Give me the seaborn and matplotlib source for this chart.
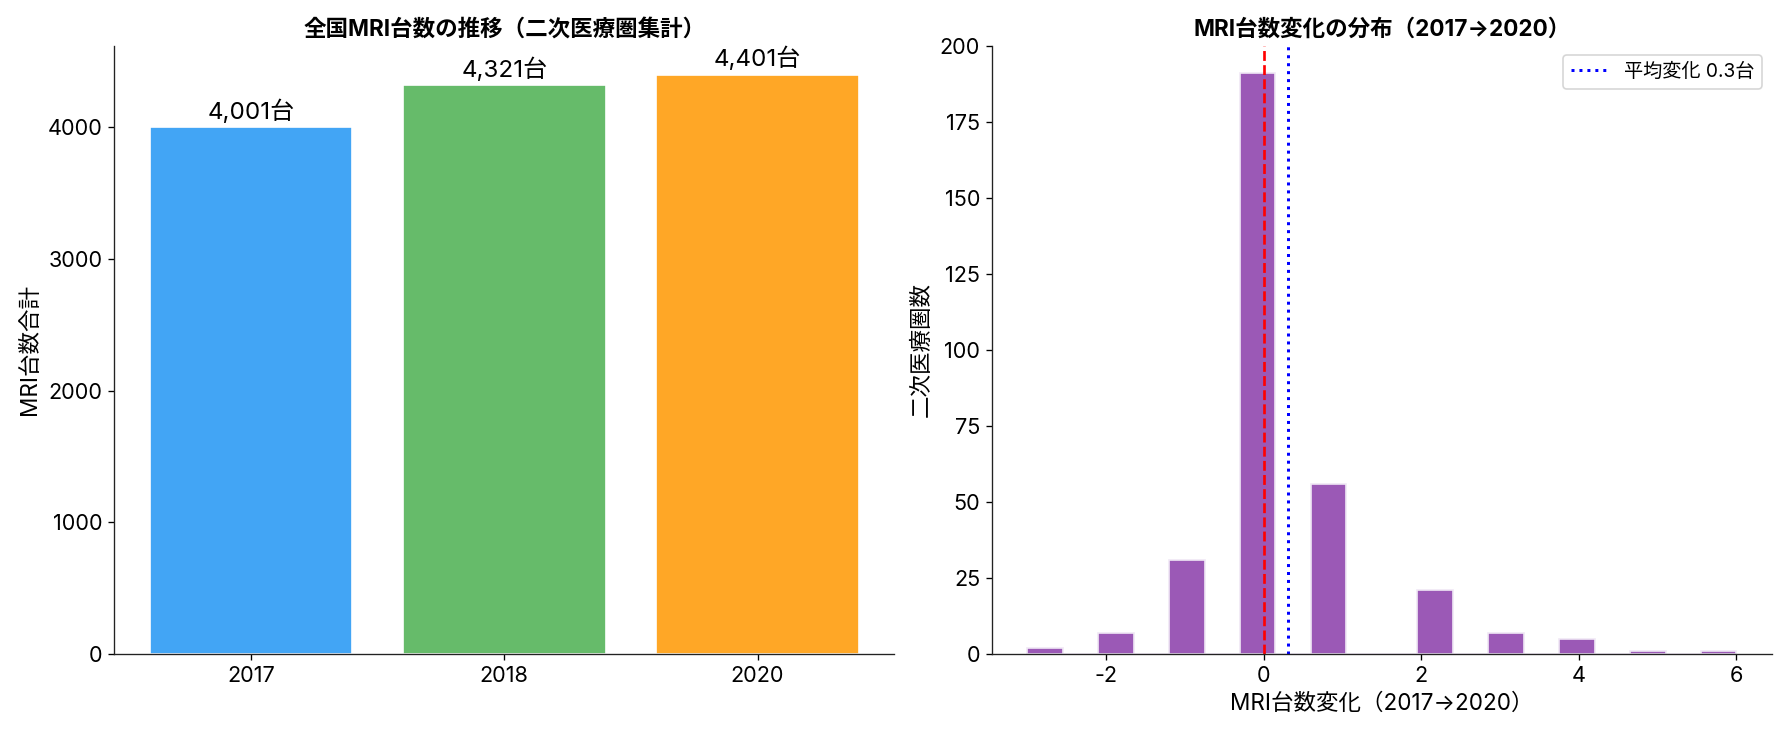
import numpy as np
import pandas as pd
import matplotlib
matplotlib.use("Agg")
import matplotlib.pyplot as plt
import seaborn as sns

# 全国MRI台数（二次医療圏集計）
years = ["2017", "2018", "2020"]
totals = [4001, 4321, 4401]
bar_colors = ["#42A5F5", "#66BB6A", "#FFA726"]

# 医療圏ごとの台数変化（2017→2020）と医療圏数
change_values = [-3, -2, -1, 0, 1, 2, 3, 4, 5, 6]
area_counts = [2, 7, 31, 191, 56, 21, 7, 5, 1, 1]

sns.set_style("ticks")
plt.rcParams["font.family"] = ["Inter", "Noto Sans CJK JP", "DejaVu Sans"]
plt.rcParams["axes.unicode_minus"] = False
plt.rcParams["font.size"] = 13
plt.rcParams["xtick.labelsize"] = 13
plt.rcParams["ytick.labelsize"] = 13
for key in ["text.color", "axes.labelcolor", "xtick.color", "ytick.color"]:
    plt.rcParams[key] = "black"
plt.rcParams["axes.edgecolor"] = "#222222"

fig, (ax1, ax2) = plt.subplots(1, 2, figsize=(14.87, 6.125), dpi=120)
fig.subplots_adjust(left=0.064, right=0.993, bottom=0.11, top=0.938, wspace=0.125)

# 左: 年別合計
df_total = pd.DataFrame({"year": years, "total": totals})
sns.barplot(data=df_total, x="year", y="total", hue="year", palette=bar_colors,
            legend=False, ax=ax1, width=0.8, saturation=1)
for p, v in zip(ax1.patches, totals):
    ax1.text(p.get_x() + p.get_width() / 2, p.get_height() + 25, f"{v:,}台",
             ha="center", va="bottom", fontsize=14.5)
ax1.set_xlim(-0.54, 2.54)
ax1.set_ylim(0, max(totals) * 1.05)
ax1.set_title("全国MRI台数の推移（二次医療圏集計）", fontweight="bold", fontsize=13.5)
ax1.set_xlabel("")
ax1.set_ylabel("MRI台数合計", fontsize=13.5)

# 右: 変化の分布
df_change = pd.DataFrame({"change": change_values, "count": area_counts})
mean_change = np.average(change_values, weights=area_counts)
sns.histplot(data=df_change, x="change", weights="count", bins=20, ax=ax2,
             color="#9b59b6", alpha=1, edgecolor="#f0e8f5", linewidth=1)
ax2.axvline(0, color="red", linestyle="--", linewidth=1.6)
ax2.axvline(mean_change, color="blue", linestyle=":", linewidth=1.8,
            label=f"平均変化 {mean_change:.1f}台")
ax2.set_ylim(0, 200)
ax2.set_title("MRI台数変化の分布（2017→2020）", fontweight="bold", fontsize=13.5)
ax2.set_xlabel("MRI台数変化（2017→2020）", fontsize=13.5)
ax2.set_ylabel("二次医療圏数", fontsize=13.5)
ax2.legend(loc="upper right", fontsize=11.5)

sns.despine(fig=fig)
fig.savefig("out.png", dpi=120)
